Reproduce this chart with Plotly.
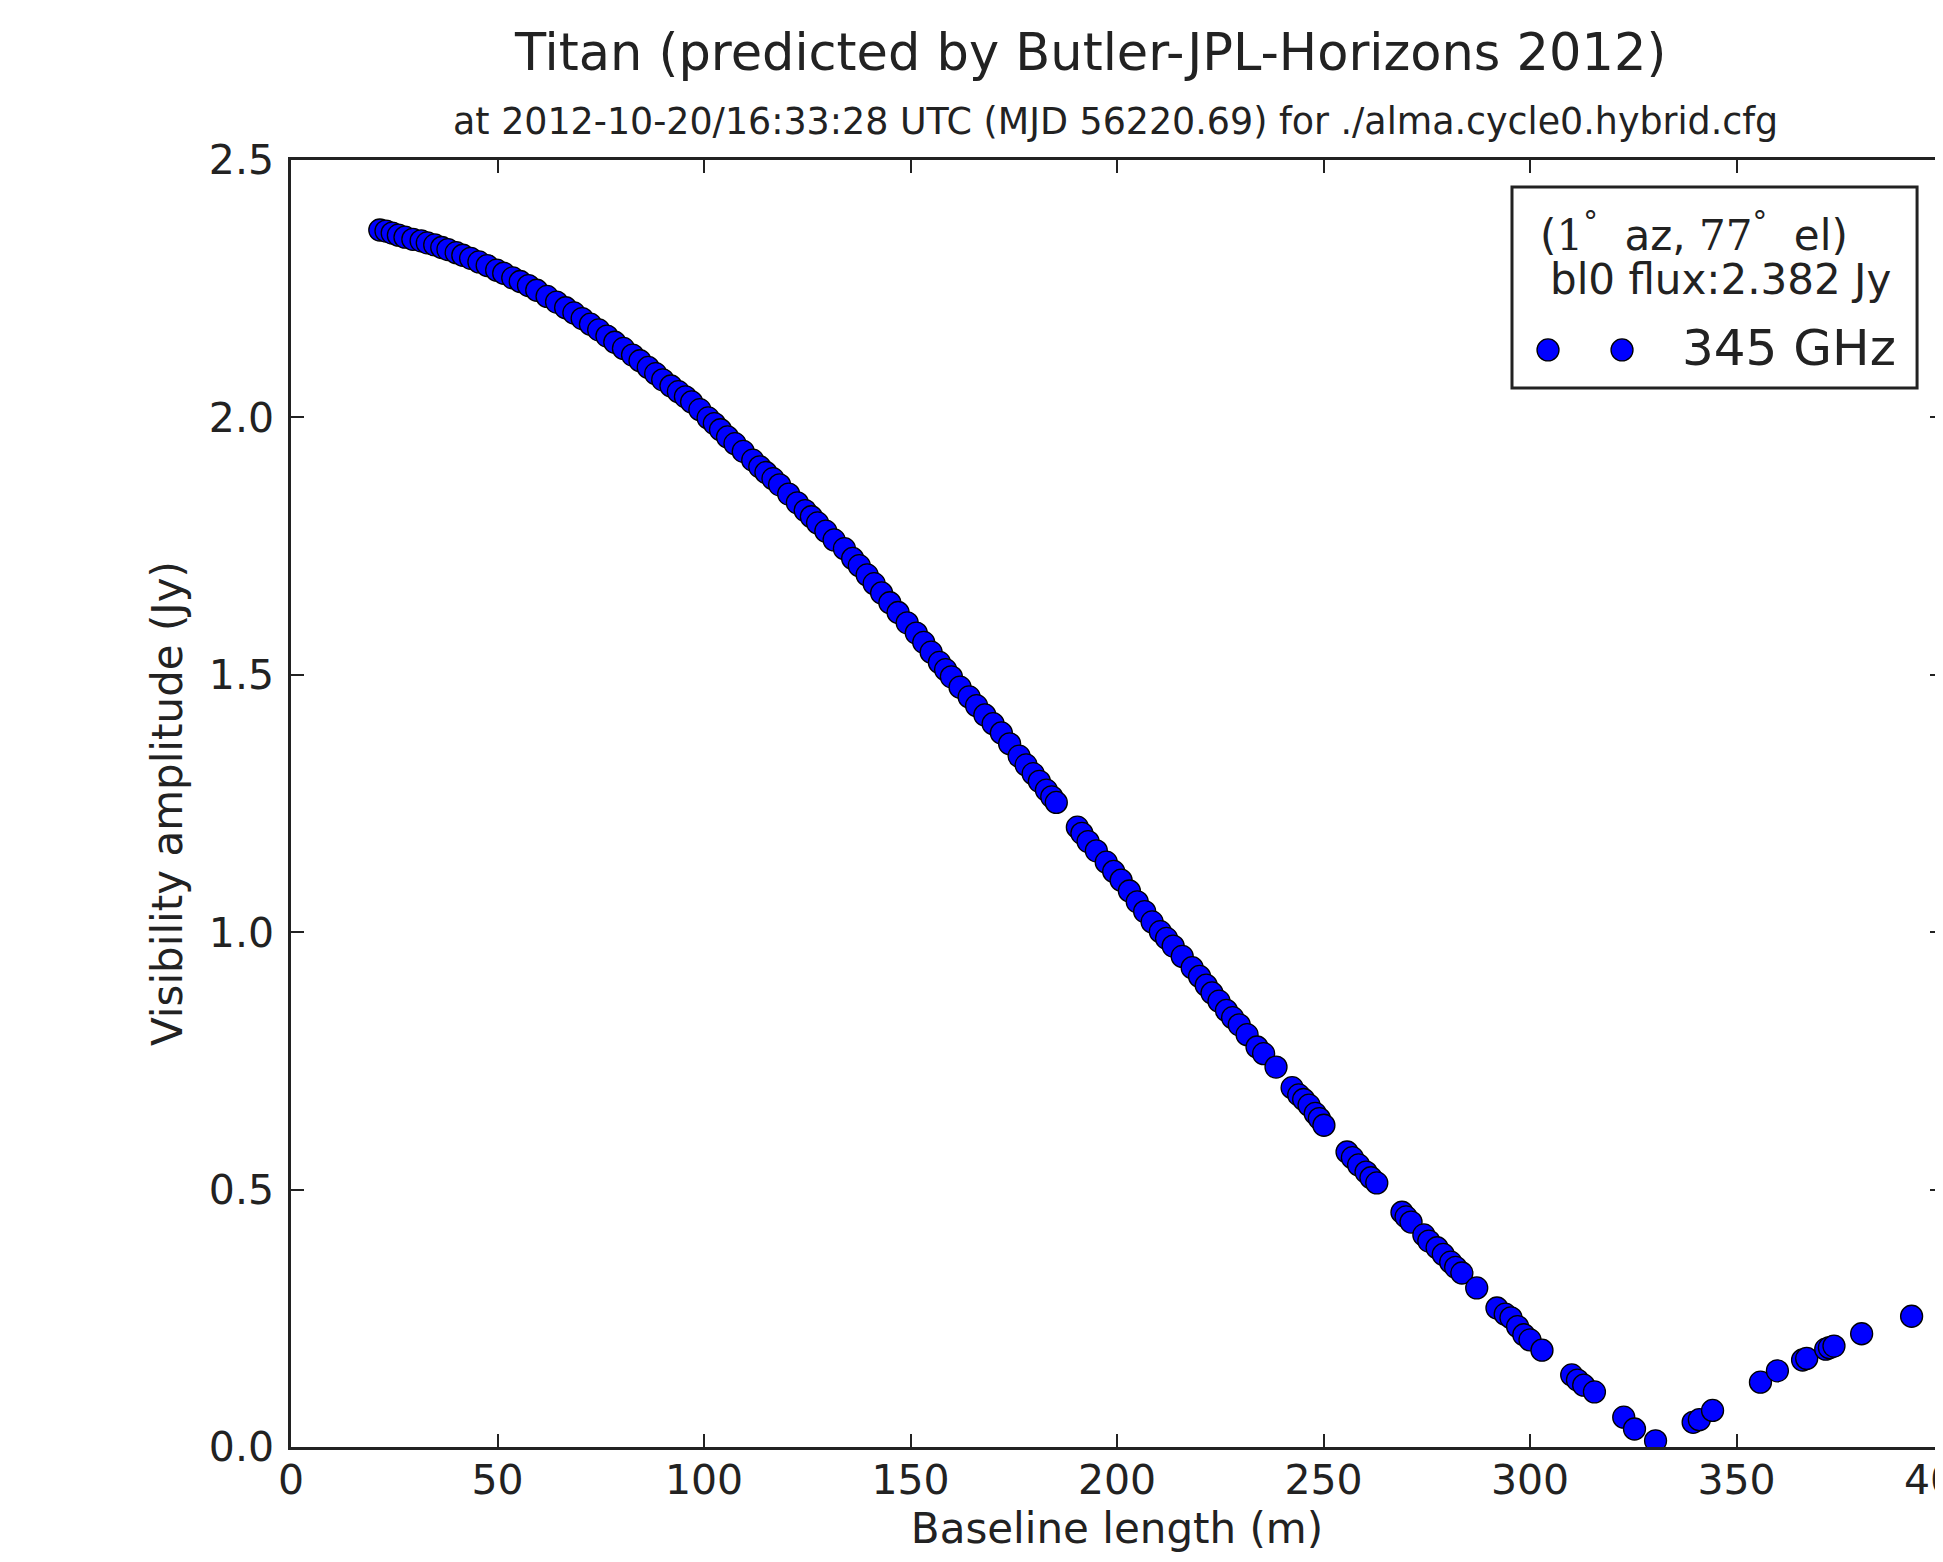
import plotly.graph_objects as go

# Baseline length (m) and visibility amplitude (Jy)
baseline_m = [
    21.5, 23.0, 24.5, 26.0, 27.6, 29.5, 31.5, 33.0, 34.8, 36.5, 38.0, 40.0, 41.6, 43.5, 45.5, 47.5,
    49.8, 51.5, 53.7, 55.5, 57.5, 59.5, 62.0, 64.3, 66.5, 68.5, 70.5, 72.5, 74.5, 76.5, 78.4, 80.5,
    82.7, 84.5, 86.5, 88.3, 90.0, 92.0, 93.8, 95.5, 97.0, 99.0, 101.0, 102.5, 104.0, 105.7, 107.5,
    109.5, 111.8, 113.5, 115.0, 116.7, 118.3, 120.5, 122.6, 124.5, 126.0, 127.5, 129.5, 131.5, 134.0,
    136.0, 137.6, 139.5, 141.2, 143.0, 145.0, 147.0, 149.2, 151.4, 153.2, 155.0, 157.0, 158.5, 159.9,
    162.0, 164.2, 166.0, 168.0, 170.0, 172.0, 174.0, 176.3, 178.0, 179.7, 181.2, 182.9, 184.2, 185.3,
    190.4, 191.5, 193.0, 195.0, 197.4, 199.2, 201.0, 203.0, 204.9, 206.7, 208.5, 210.5, 212.0, 213.6,
    215.8, 218.2, 220.0, 221.6, 223.0, 224.7, 226.5, 228.0, 229.6, 231.5, 233.9, 235.5, 238.5,
    242.4, 244.0, 245.2, 246.5, 248.0, 249.0, 250.1,
    255.7, 257.0, 258.5, 260.3, 261.5, 262.9,
    269.0, 270.0, 271.2, 274.3, 275.5, 277.5, 279.0, 280.8, 282.0, 283.5, 287.1,
    292.0, 294.0, 295.4, 297.0, 298.5, 300.0, 302.9,
    310.1, 311.5, 313.0, 315.6, 322.7, 325.3, 330.4, 339.5, 341.0, 344.2,
    355.8, 359.9, 366.0, 367.0, 371.6, 372.5, 373.6, 380.3, 392.4,
]
amplitude_jy = [
    2.364, 2.362, 2.358, 2.354, 2.350, 2.346, 2.343, 2.339, 2.335, 2.330, 2.326, 2.320, 2.315, 2.309, 2.302, 2.295,
    2.286, 2.280, 2.271, 2.264, 2.256, 2.247, 2.235, 2.224, 2.213, 2.203, 2.192, 2.181, 2.170, 2.158, 2.146, 2.134,
    2.121, 2.110, 2.097, 2.085, 2.073, 2.061, 2.050, 2.040, 2.030, 2.015, 1.999, 1.988, 1.976, 1.962, 1.949,
    1.934, 1.917, 1.904, 1.893, 1.881, 1.869, 1.851, 1.834, 1.819, 1.807, 1.795, 1.779, 1.762, 1.745,
    1.726, 1.712, 1.694, 1.677, 1.659, 1.640, 1.621, 1.601, 1.581, 1.563, 1.544, 1.524, 1.510, 1.496,
    1.476, 1.457, 1.440, 1.422, 1.405, 1.387, 1.366, 1.342, 1.325, 1.308, 1.293, 1.276, 1.263, 1.252,
    1.204, 1.192, 1.176, 1.158, 1.136, 1.118, 1.101, 1.080, 1.059, 1.040, 1.020, 1.001, 0.988, 0.973,
    0.953, 0.931, 0.914, 0.897, 0.882, 0.866, 0.848, 0.834, 0.820, 0.801, 0.777, 0.764, 0.738,
    0.698, 0.684, 0.675, 0.664, 0.648, 0.638, 0.625,
    0.573, 0.562, 0.548, 0.534, 0.523, 0.513,
    0.456, 0.447, 0.437, 0.412, 0.400, 0.387, 0.374, 0.359, 0.349, 0.338, 0.309,
    0.270, 0.258, 0.251, 0.234, 0.218, 0.208, 0.188,
    0.140, 0.130, 0.120, 0.107, 0.058, 0.035, 0.012, 0.048, 0.053, 0.071,
    0.126, 0.148, 0.169, 0.172, 0.190, 0.193, 0.196, 0.220, 0.254,
]

x_ticks = [0, 50, 100, 150, 200, 250, 300, 350, 400]
y_ticks = [0.0, 0.5, 1.0, 1.5, 2.0, 2.5]

title_text = "Titan (predicted by Butler-JPL-Horizons 2012)"
subtitle_text = "at 2012-10-20/16:33:28 UTC (MJD 56220.69) for ./alma.cycle0.hybrid.cfg"
x_title = "Baseline length (m)"
y_title = "Visibility amplitude (Jy)"
legend_line1 = ("(<span style='font-family:DejaVu Serif'>1</span><sup>°</sup>\u00a0 az, "
                "<span style='font-family:DejaVu Serif'>77</span><sup>°</sup>\u00a0 el)")
legend_line2 = "bl0 flux:2.382 Jy"
series_name = "345 GHz"

FONT = "DejaVu Sans"
INK = "#222222"
BLUE = "#0000ff"

fig = go.Figure()
fig.add_trace(go.Scatter(
    x=baseline_m, y=amplitude_jy, mode="markers", name=series_name,
    marker=dict(size=22, color=BLUE, line=dict(color="#000000", width=1.3)),
    showlegend=False,
))

axis_common = dict(
    showgrid=False, zeroline=False, showline=True, linecolor=INK, linewidth=2.5,
    mirror="allticks", ticks="inside", ticklen=13, tickwidth=1.5, tickcolor=INK,
    tickfont=dict(family=FONT, size=41, color=INK), automargin=False,
)

fig.update_xaxes(
    range=[0, 400], tickvals=x_ticks, ticktext=[str(v) for v in x_ticks],
    ticklabeloverflow="allow", ticklabelstandoff=-5,
    title=dict(text=x_title, font=dict(family=FONT, size=42, color=INK), standoff=2),
    **axis_common,
)
fig.update_yaxes(
    range=[0, 2.5], tickvals=y_ticks, ticktext=[f"{v:.1f}" for v in y_ticks],
    ticklabelstandoff=6,
    title=dict(text=y_title, font=dict(family=FONT, size=42, color=INK), standoff=14),
    **axis_common,
)

annotations = [
    dict(text=title_text, xref="paper", yref="paper", x=0.4837, y=1.0832,
         xanchor="center", yanchor="middle", showarrow=False,
         font=dict(family=FONT, size=51, color=INK)),
    dict(text=subtitle_text, xref="paper", yref="paper", x=0.4988, y=1.0303,
         xanchor="center", yanchor="middle", showarrow=False,
         font=dict(family=FONT, size=36.4, color=INK)),
    dict(text=legend_line1, xref="paper", yref="paper", x=0.7548, y=0.9433,
         xanchor="left", yanchor="middle", showarrow=False,
         font=dict(family=FONT, size=42, color=INK)),
    dict(text=legend_line2, xref="paper", yref="paper", x=0.7609, y=0.9068,
         xanchor="left", yanchor="middle", showarrow=False,
         font=dict(family=FONT, size=42, color=INK)),
    dict(text=series_name, xref="paper", yref="paper", x=0.8408, y=0.8539,
         xanchor="left", yanchor="middle", showarrow=False,
         font=dict(family=FONT, size=50, color=INK)),
]

shapes = [
    dict(type="rect", xref="paper", yref="paper", x0=0.7391, x1=0.9843, y0=0.8228, y1=0.9790,
         line=dict(color=INK, width=3), fillcolor="white", layer="above"),
]
for cx in (0.7609, 0.8057):
    shapes.append(dict(type="circle", xref="paper", yref="paper",
                       xsizemode="pixel", ysizemode="pixel",
                       xanchor=cx, yanchor=0.8524, x0=-11, x1=11, y0=-11, y1=11,
                       fillcolor=BLUE, line=dict(color="#000000", width=1.3), layer="above"))

fig.update_layout(
    width=1935, height=1554,
    margin=dict(l=283, r=0, t=152, b=115, autoexpand=False),
    paper_bgcolor="white", plot_bgcolor="white",
    showlegend=False,
    annotations=annotations, shapes=shapes,
    font=dict(family=FONT, color=INK),
)

fig.write_html("out.html")
